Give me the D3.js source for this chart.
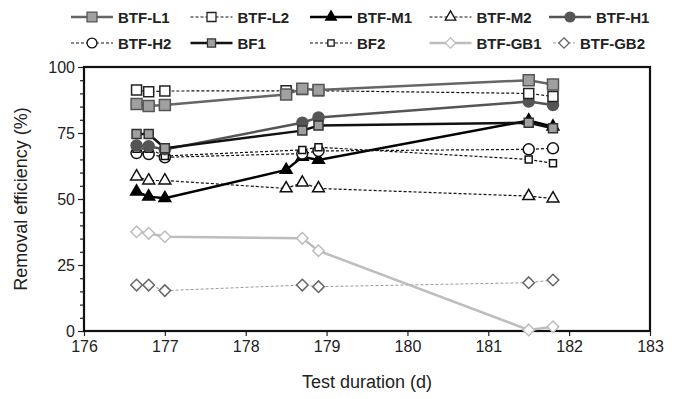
<!DOCTYPE html>
<html>
<head>
<meta charset="utf-8">
<script src="https://cdn.jsdelivr.net/npm/d3@7"></script>
<style>
  body { margin: 0; background: #fff; }
  svg { font-family: "Liberation Sans", Arial, sans-serif; }
</style>
</head>
<body>
<script>
// test days (two sampling sets)
const daysA = [176.65, 176.8, 177.0, 178.7, 178.9, 181.5, 181.8]
const daysB = [176.65, 176.8, 177.0, 178.5, 178.7, 178.9, 181.5, 181.8]

// removal efficiency (%) for each reactor
const btfL1 = [86, 85.2, 85.6, 89.6, 91.8, 91.3, 95, 93.4]
const btfL2 = [91.3, 90.6, 90.9, 91, 91.5, 91, 90, 88.8]
const btfM1 = [52.8, 50.9, 50.3, 61, 66, 64.8, 79.7, 77.4]
const btfM2 = [58.5, 57, 57, 54, 56.2, 54, 51.1, 50.2]
const btfH1 = [70.3, 70, 68.8, 78.9, 80.9, 86.9, 85.6]
const btfH2 = [67.4, 67, 65.8, 67.2, 68.2, 68.8, 69.2]
const bf1 = [74.6, 74.6, 69.2, 75.9, 77.8, 78.9, 76.8]
const bf2 = [69, 69, 66.3, 68.6, 69.6, 65, 63.5]
const btfGB1 = [37.6, 37, 35.7, 35.1, 30.4, 0.4, 1.6]
const btfGB2 = [17.4, 17.4, 15.3, 17.4, 16.8, 18.3, 19.3]

const xTicks = [176, 177, 178, 179, 180, 181, 182, 183]
const yTicks = [0, 25, 50, 75, 100]

const width = 684, height = 399
const margin = {top: 67, right: 34, bottom: 68, left: 84}

// drawing styles for every series (built from the arrays above)
const series = [
  {name: 'BTF-GB2', x: daysA, y: btfGB2, line: '#9a9a9a', lw: 1, dash: '3,2', sym: 'diamond', fill: '#fff', stroke: '#666', size: 8},
  {name: 'BTF-GB1', x: daysA, y: btfGB1, line: '#bdbdbd', lw: 2.5, dash: null, sym: 'diamond', fill: '#fff', stroke: '#bdbdbd', size: 8},
  {name: 'BTF-M2', x: daysB, y: btfM2, line: '#111', lw: 1.2, dash: '3,2', sym: 'triangle', fill: '#fff', stroke: '#111', size: 11},
  {name: 'BTF-M1', x: daysB, y: btfM1, line: '#000', lw: 2.5, dash: null, sym: 'triangle', fill: '#000', stroke: '#000', size: 11},
  {name: 'BTF-H2', x: daysA, y: btfH2, line: '#111', lw: 1.2, dash: '3,2', sym: 'circle', fill: '#fff', stroke: '#111', size: 11},
  {name: 'BF2', x: daysA, y: bf2, line: '#111', lw: 1.2, dash: '3,2', sym: 'square', fill: '#fff', stroke: '#111', size: 7},
  {name: 'BTF-H1', x: daysA, y: btfH1, line: '#555', lw: 2.5, dash: null, sym: 'circle', fill: '#555', stroke: '#555', size: 11},
  {name: 'BF1', x: daysA, y: bf1, line: '#111', lw: 2.5, dash: null, sym: 'square', fill: '#a0a0a0', stroke: '#333', size: 9},
  {name: 'BTF-L2', x: daysB, y: btfL2, line: '#111', lw: 1.2, dash: '3,2', sym: 'square', fill: '#fff', stroke: '#222', size: 10},
  {name: 'BTF-L1', x: daysB, y: btfL1, line: '#666', lw: 2.5, dash: null, sym: 'square', fill: '#a0a0a0', stroke: '#555', size: 11}
]
const legendOrder = ['BTF-L1', 'BTF-L2', 'BTF-M1', 'BTF-M2', 'BTF-H1',
                     'BTF-H2', 'BF1', 'BF2', 'BTF-GB1', 'BTF-GB2']

const svg = d3.select('body').append('svg')
  .attr('width', width)
  .attr('height', height)

const xScale = d3.scaleLinear()
  .domain([176, 183])
  .range([margin.left, width - margin.right])

const yScale = d3.scaleLinear()
  .domain([0, 100])
  .range([height - margin.bottom, margin.top])

// symbol path for a marker of given pixel size
function symbolPath(sym, size) {
  if (sym === 'square') return d3.symbol(d3.symbolSquare, size * size)()
  if (sym === 'circle') return d3.symbol(d3.symbolCircle, Math.PI * size * size / 4)()
  if (sym === 'triangle') return d3.symbol(d3.symbolTriangle, size * size * 0.5)()
  // diamond: square turned 45 degrees
  const h = size * 0.72
  return 'M0,' + (-h) + 'L' + h + ',0L0,' + h + 'L' + (-h) + ',0Z'
}

// y axis with minor ticks
const yAxis = svg.append('g')
  .attr('transform', 'translate(' + margin.left + ',0)')
  .call(d3.axisLeft(yScale).tickValues(yTicks).tickSize(6).tickPadding(3))
yAxis.selectAll('text').style('font-size', '16px').attr('fill', '#222')
yAxis.select('.domain').remove()
svg.append('g')
  .attr('transform', 'translate(' + margin.left + ',0)')
  .call(d3.axisLeft(yScale).tickValues(d3.range(5, 100, 5).filter(v => v % 25 !== 0)).tickSize(4).tickFormat(''))
  .select('.domain').remove()

// x axis
const xAxis = svg.append('g')
  .attr('transform', 'translate(0,' + (height - margin.bottom) + ')')
  .call(d3.axisBottom(xScale).tickValues(xTicks).tickSize(5).tickPadding(5).tickFormat(d3.format('d')))
xAxis.selectAll('text').style('font-size', '16px').attr('fill', '#222')
xAxis.select('.domain').remove()
svg.selectAll('.tick line').attr('stroke', '#222').attr('stroke-width', 1.2)

// plot frame
svg.append('rect')
  .attr('x', margin.left)
  .attr('y', margin.top)
  .attr('width', width - margin.left - margin.right)
  .attr('height', height - margin.top - margin.bottom)
  .attr('fill', 'none')
  .attr('stroke', '#111')
  .attr('stroke-width', 2.2)

// lines and markers
const line = d3.line()
  .x(d => xScale(d[0]))
  .y(d => yScale(d[1]))

series.forEach(s => {
  const pts = s.x.map((x, i) => [x, s.y[i]])
  svg.append('path')
    .datum(pts)
    .attr('fill', 'none')
    .attr('stroke', s.line)
    .attr('stroke-width', s.lw)
    .attr('stroke-dasharray', s.dash)
    .attr('d', line)
  svg.selectAll(null).data(pts)
    .enter()
    .append('path')
      .attr('transform', d => 'translate(' + xScale(d[0]) + ',' + yScale(d[1]) + ')')
      .attr('d', symbolPath(s.sym, s.size))
      .attr('fill', s.fill)
      .attr('stroke', s.stroke)
      .attr('stroke-width', 1.5)
})

// legend, two rows of five
const legend = svg.append('g')
legendOrder.forEach((name, i) => {
  const s = series.find(d => d.name === name)
  const col = i % 5, row = Math.floor(i / 5)
  let lx = 71 + col * 119.5
  let len = 42
  if (name === 'BTF-GB2') { lx = 553; len = 22 }
  const ly = 17 + row * 26
  const g = legend.append('g').attr('transform', 'translate(' + lx + ',' + ly + ')')
  g.append('line')
    .attr('x1', 0).attr('x2', len)
    .attr('stroke', s.line)
    .attr('stroke-width', s.lw)
    .attr('stroke-dasharray', s.dash)
  g.append('path')
    .attr('transform', 'translate(' + (len / 2) + ',0)')
    .attr('d', symbolPath(s.sym, s.size * 0.9))
    .attr('fill', s.fill)
    .attr('stroke', s.stroke)
    .attr('stroke-width', 1.3)
  g.append('text')
    .attr('x', len + 5)
    .attr('y', 5.5)
    .style('font-size', '15px')
    .style('font-weight', 'bold')
    .attr('fill', '#222')
    .text(name)
})

// axis titles
svg.append('text')
  .attr('x', (margin.left + width - margin.right) / 2)
  .attr('y', 388)
  .attr('text-anchor', 'middle')
  .style('font-size', '18px')
  .attr('fill', '#222')
  .text('Test duration (d)')

svg.append('text')
  .attr('transform', 'translate(27,' + ((margin.top + height - margin.bottom) / 2) + ') rotate(-90)')
  .attr('text-anchor', 'middle')
  .style('font-size', '18px')
  .attr('fill', '#222')
  .text('Removal efficiency (%)')
</script>
</body>
</html>
